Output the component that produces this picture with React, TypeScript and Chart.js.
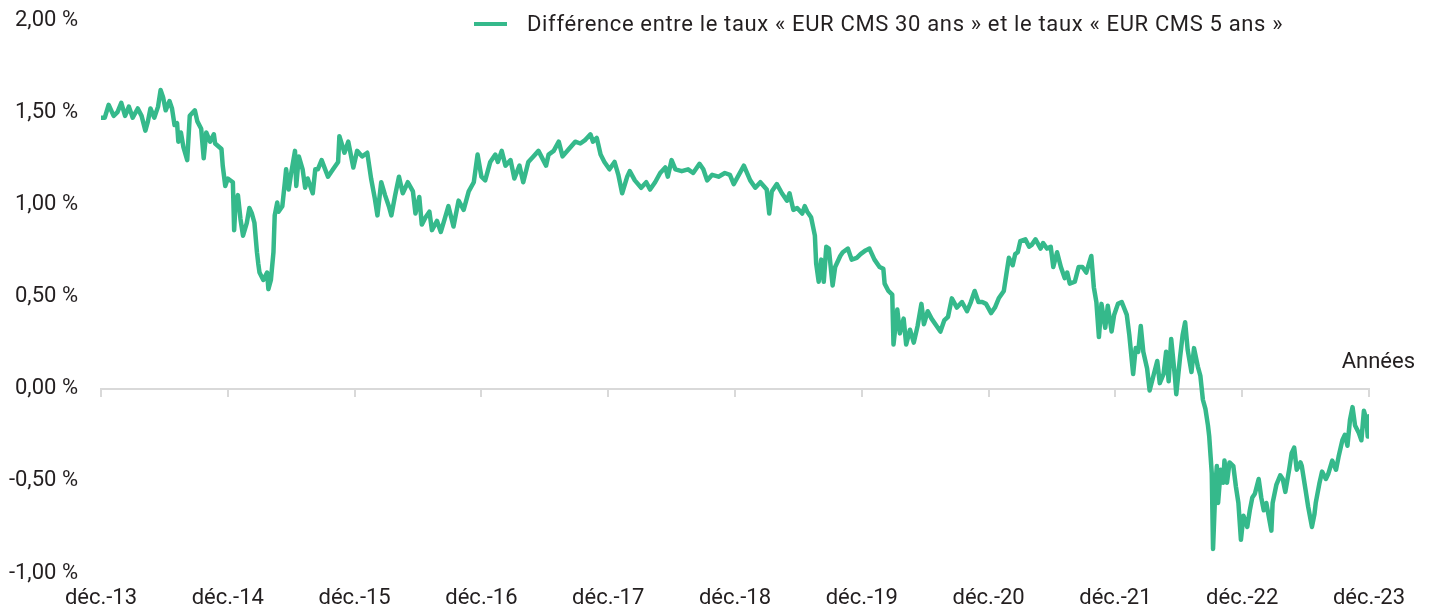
import React, { useEffect, useRef } from "react";
import { Chart, registerables } from "chart.js";

Chart.register(...registerables);

// Years elapsed since December 2013
const years: number[] = [
  0.00, 0.03, 0.06, 0.10, 0.13, 0.16, 0.19, 0.22, 0.25, 0.29, 0.32, 0.35, 0.37, 0.39, 0.42, 0.45, 0.47, 0.49, 0.51, 0.54,
  0.56, 0.58, 0.60, 0.61, 0.63, 0.65, 0.68, 0.70, 0.74, 0.76, 0.79, 0.81, 0.83, 0.86, 0.89, 0.90, 0.95, 0.96, 0.98, 1.00,
  1.04, 1.05, 1.06, 1.08, 1.10, 1.12, 1.15, 1.17, 1.19, 1.21, 1.23, 1.24, 1.25, 1.28, 1.31, 1.32, 1.34, 1.36, 1.37, 1.39,
  1.40, 1.43, 1.45, 1.46, 1.48, 1.50, 1.53, 1.54, 1.56, 1.59, 1.61, 1.63, 1.67, 1.69, 1.71, 1.74,
  1.79, 1.83, 1.87, 1.88, 1.92, 1.95, 1.99, 2.02, 2.06, 2.10, 2.13, 2.16, 2.18, 2.21, 2.24, 2.27, 2.29, 2.32, 2.35, 2.38,
  2.42, 2.46, 2.48, 2.51, 2.53, 2.56, 2.59, 2.61, 2.65, 2.68, 2.71, 2.74, 2.78, 2.82, 2.86, 2.90, 2.94, 2.97, 3.00, 3.03,
  3.07, 3.11, 3.13, 3.16, 3.19, 3.23, 3.26, 3.30, 3.33, 3.37, 3.41, 3.45,
  3.51, 3.53, 3.57, 3.61, 3.64, 3.69, 3.74, 3.78, 3.82, 3.86, 3.88, 3.91, 3.94, 3.97, 4.01, 4.05, 4.08, 4.11, 4.15, 4.17,
  4.21, 4.26, 4.30, 4.33, 4.37, 4.41, 4.45, 4.47, 4.50, 4.53, 4.58, 4.63, 4.67, 4.72, 4.75, 4.78, 4.82, 4.87, 4.92, 4.96,
  4.99, 5.03, 5.07, 5.12, 5.16, 5.20,
  5.25, 5.27, 5.29, 5.33, 5.37, 5.41, 5.43, 5.46, 5.49, 5.53, 5.55, 5.57, 5.60, 5.63, 5.64, 5.66, 5.68, 5.70, 5.72, 5.74,
  5.77, 5.79, 5.83, 5.85, 5.89, 5.92, 5.96, 5.99, 6.03, 6.06, 6.10, 6.14, 6.17, 6.18, 6.21, 6.24, 6.25, 6.28, 6.30, 6.33,
  6.35, 6.38, 6.41, 6.44, 6.47, 6.49, 6.52, 6.55, 6.59, 6.62, 6.65, 6.68, 6.71, 6.75, 6.79, 6.83, 6.86, 6.89, 6.92,
  6.95, 6.98, 7.02, 7.05, 7.08, 7.12, 7.14, 7.16, 7.19, 7.21, 7.23, 7.25, 7.29, 7.32, 7.34, 7.37, 7.41, 7.43, 7.46, 7.49,
  7.51, 7.54, 7.57, 7.60, 7.62, 7.64, 7.68, 7.71, 7.74, 7.77, 7.81, 7.83, 7.85, 7.87, 7.89, 7.92, 7.94, 7.97, 7.99, 8.02,
  8.05, 8.09, 8.11, 8.14, 8.16, 8.18, 8.20, 8.22, 8.25, 8.27, 8.30, 8.33, 8.35, 8.38, 8.40, 8.42, 8.44, 8.47, 8.48, 8.51,
  8.53, 8.55, 8.57, 8.60, 8.62,
  8.65, 8.67, 8.69, 8.71, 8.73, 8.74, 8.76, 8.77, 8.79, 8.80, 8.81, 8.83, 8.85, 8.86, 8.88, 8.90, 8.93, 8.95, 8.97, 8.99,
  9.01, 9.04, 9.06, 9.08, 9.10, 9.13, 9.15, 9.17, 9.19, 9.23, 9.24, 9.27, 9.30, 9.32, 9.34, 9.37, 9.39, 9.41, 9.43, 9.46,
  9.47, 9.50, 9.52, 9.55, 9.57, 9.58, 9.61, 9.63, 9.66, 9.68, 9.71, 9.74, 9.76, 9.79, 9.81, 9.83, 9.85, 9.87, 9.89, 9.92,
  9.94, 9.96, 9.98, 9.99, 10.00, 10.02,
];

// Spread EUR CMS 30 ans - EUR CMS 5 ans (%)
const spread: number[] = [
  1.47, 1.47, 1.54, 1.48, 1.50, 1.55, 1.48, 1.53, 1.47, 1.52, 1.48, 1.40, 1.45, 1.52, 1.47, 1.53, 1.62, 1.58, 1.51, 1.56,
  1.52, 1.43, 1.44, 1.34, 1.39, 1.31, 1.24, 1.48, 1.51, 1.45, 1.41, 1.25, 1.39, 1.34, 1.38, 1.33, 1.30, 1.21, 1.10, 1.14,
  1.12, 0.86, 0.99, 1.05, 0.92, 0.83, 0.90, 0.98, 0.95, 0.90, 0.74, 0.68, 0.63, 0.59, 0.63, 0.54, 0.59, 0.74, 0.94, 1.01,
  0.96, 0.99, 1.12, 1.19, 1.08, 1.17, 1.29, 1.10, 1.26, 1.19, 1.09, 1.14, 1.06, 1.19, 1.19, 1.24,
  1.15, 1.19, 1.23, 1.37, 1.28, 1.34, 1.20, 1.29, 1.26, 1.28, 1.14, 1.03, 0.94, 1.12, 1.05, 0.99, 0.94, 1.05, 1.15, 1.06,
  1.12, 1.07, 0.95, 1.04, 0.89, 0.93, 0.96, 0.86, 0.91, 0.85, 0.92, 0.99, 0.88, 1.02, 0.97, 1.07, 1.12, 1.27, 1.15, 1.13,
  1.23, 1.27, 1.23, 1.29, 1.21, 1.24, 1.14, 1.21, 1.12, 1.23, 1.26, 1.29,
  1.21, 1.27, 1.29, 1.34, 1.26, 1.30, 1.34, 1.33, 1.35, 1.38, 1.34, 1.36, 1.27, 1.23, 1.19, 1.23, 1.16, 1.06, 1.15, 1.18,
  1.13, 1.09, 1.12, 1.08, 1.12, 1.17, 1.20, 1.15, 1.24, 1.19, 1.18, 1.19, 1.17, 1.22, 1.19, 1.13, 1.16, 1.15, 1.17, 1.16,
  1.11, 1.16, 1.21, 1.13, 1.09, 1.12,
  1.08, 0.95, 1.07, 1.11, 1.06, 1.02, 1.06, 0.97, 0.98, 0.95, 0.99, 0.96, 0.93, 0.83, 0.68, 0.58, 0.70, 0.58, 0.77, 0.76,
  0.56, 0.66, 0.72, 0.74, 0.76, 0.70, 0.71, 0.73, 0.75, 0.76, 0.70, 0.66, 0.65, 0.57, 0.53, 0.51, 0.24, 0.43, 0.30, 0.38,
  0.24, 0.32, 0.25, 0.34, 0.46, 0.35, 0.42, 0.38, 0.34, 0.31, 0.37, 0.39, 0.49, 0.44, 0.47, 0.42, 0.47, 0.53, 0.47,
  0.47, 0.46, 0.41, 0.44, 0.49, 0.53, 0.62, 0.71, 0.67, 0.73, 0.74, 0.80, 0.81, 0.77, 0.78, 0.81, 0.76, 0.79, 0.76, 0.77,
  0.66, 0.74, 0.66, 0.60, 0.63, 0.57, 0.58, 0.66, 0.66, 0.63, 0.72, 0.55, 0.47, 0.28, 0.46, 0.33, 0.45, 0.31, 0.40, 0.46,
  0.47, 0.40, 0.29, 0.08, 0.22, 0.20, 0.34, 0.20, 0.11, -0.01, 0.07, 0.15, 0.03, 0.08, 0.20, 0.04, 0.27, 0.06, -0.03, 0.17,
  0.29, 0.36, 0.21, 0.09, 0.22,
  0.12, 0.07, -0.06, -0.11, -0.20, -0.26, -0.46, -0.87, -0.51, -0.42, -0.62, -0.44, -0.51, -0.39, -0.51, -0.40, -0.42, -0.53, -0.62, -0.82,
  -0.69, -0.75, -0.66, -0.59, -0.57, -0.49, -0.59, -0.66, -0.62, -0.77, -0.62, -0.52, -0.47, -0.49, -0.56, -0.44, -0.35, -0.32, -0.44, -0.40,
  -0.42, -0.55, -0.64, -0.75, -0.68, -0.62, -0.51, -0.45, -0.49, -0.46, -0.39, -0.44, -0.37, -0.28, -0.25, -0.31, -0.17, -0.10, -0.20, -0.24,
  -0.28, -0.12, -0.17, -0.26, -0.15, -0.18,
];

const xTickLabels: string[] = [
  "déc.-13", "déc.-14", "déc.-15", "déc.-16", "déc.-17", "déc.-18",
  "déc.-19", "déc.-20", "déc.-21", "déc.-22", "déc.-23",
];

const yTickLabels: string[] = ["-1,00 %", "-0,50 %", "0,00 %", "0,50 %", "1,00 %", "1,50 %", "2,00 %"];

const seriesLabel = "Différence entre le taux « EUR CMS 30 ans » et le taux « EUR CMS 5 ans »";
const axisTitle = "Années";

const LINE_COLOR = "#35b98b";
const TEXT_COLOR = "#231f20";
const AXIS_COLOR = "#d9d9d9";
const FONT = "Roboto, 'Liberation Sans', sans-serif";

export default function App() {
  const canvasRef = useRef<HTMLCanvasElement | null>(null);

  useEffect(() => {
    const canvas = canvasRef.current;
    if (!canvas) return;

    const overlayPlugin = {
      id: "overlay",
      afterDraw(chart: any) {
        const { ctx, chartArea, scales } = chart;
        ctx.save();
        // legend
        const ly = 24;
        const lx = 474;
        ctx.strokeStyle = LINE_COLOR;
        ctx.lineWidth = 4;
        ctx.beginPath();
        ctx.moveTo(lx, ly);
        ctx.lineTo(lx + 33, ly);
        ctx.stroke();
        ctx.fillStyle = TEXT_COLOR;
        ctx.font = `22px ${FONT}`;
        try { ctx.letterSpacing = "0.65px"; } catch (e) {}
        ctx.textAlign = "left";
        ctx.textBaseline = "middle";
        ctx.fillText(seriesLabel, lx + 53, ly + 1);
        try { ctx.letterSpacing = "0px"; } catch (e) {}
        // axis title
        const zeroY = scales.y.getPixelForValue(0);
        ctx.font = `22px ${FONT}`;
        ctx.textAlign = "right";
        ctx.fillText(axisTitle, chartArea.right + 46, zeroY - 26);
        ctx.restore();
      },
    };

    const points = years.map((t, i) => ({ x: t, y: spread[i] }));

    const chart = new Chart(canvas, {
      type: "line",
      data: {
        datasets: [
          {
            label: seriesLabel,
            data: points,
            borderColor: LINE_COLOR,
            backgroundColor: LINE_COLOR,
            borderWidth: 4.5,
            pointRadius: 0,
            tension: 0,
            borderJoinStyle: "round",
            borderCapStyle: "round",
            xAxisID: "x",
            yAxisID: "y",
          },
        ],
      },
      options: {
        animation: false,
        responsive: false,
        maintainAspectRatio: false,
        layout: { autoPadding: false, padding: { top: 20, right: 61, left: 0, bottom: 0 } },
        plugins: {
          legend: { display: false },
          tooltip: { enabled: false },
        },
        scales: {
          x: {
            type: "linear",
            position: { y: 0 },
            min: 0,
            max: 10,
            ticks: { display: false, stepSize: 1 },
            grid: {
              display: true,
              drawOnChartArea: false,
              drawTicks: true,
              tickLength: 7,
              color: AXIS_COLOR,
              lineWidth: 2,
            },
            border: { display: true, color: AXIS_COLOR, width: 2 },
            afterFit: (scale: any) => {
              scale.height = 0;
            },
          },
          x2: {
            type: "linear",
            axis: "x",
            position: "bottom",
            min: 0,
            max: 10,
            ticks: {
              stepSize: 1,
              padding: 12,
              maxRotation: 0,
              autoSkip: false,
              color: TEXT_COLOR,
              font: { family: FONT, size: 22 },
              callback: (_v: any, i: number) => xTickLabels[i],
            },
            grid: { display: false, drawTicks: false },
            border: { display: false },
            afterFit: (scale: any) => {
              scale.height = 36;
            },
          },
          y: {
            type: "linear",
            position: "left",
            min: -1,
            max: 2,
            ticks: {
              stepSize: 0.5,
              padding: 0,
              color: TEXT_COLOR,
              font: { family: FONT, size: 22 },
              callback: (_v: any, i: number) => yTickLabels[i],
            },
            grid: { display: false, drawTicks: true, tickLength: 23 },
            border: { display: false },
            afterFit: (scale: any) => {
              scale.width = 101;
            },
          },
        },
      },
      plugins: [overlayPlugin],
    } as any);

    return () => {
      chart.destroy();
    };
  }, []);

  return (
    <div style={{ position: "absolute", left: 0, top: 0, width: 1430, height: 609, background: "#fff" }}>
      <canvas ref={canvasRef} width={1430} height={609} style={{ width: 1430, height: 609, display: "block" }} />
    </div>
  );
}
